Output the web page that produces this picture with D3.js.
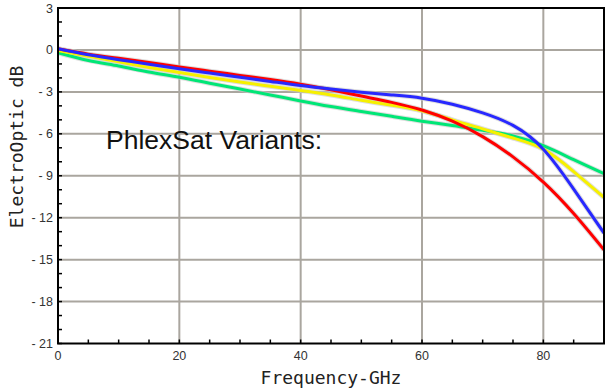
<!DOCTYPE html>
<html><head><meta charset="utf-8">
<script src="https://cdn.jsdelivr.net/npm/d3@7"></script>
<style>html,body{margin:0;padding:0;background:#fff;}svg{display:block;}</style>
</head><body>
<svg id="chart" width="605" height="390"></svg>
<script>
const freqs = [0,5,10,15,20,25,30,35,40,45,50,55,60,65,70,75,80,85,90];
const blueVals   = [0.08,-0.35,-0.7,-1.02,-1.35,-1.65,-1.95,-2.25,-2.55,-2.8,-3.02,-3.22,-3.45,-3.88,-4.5,-5.4,-7.1,-9.95,-13.1];
const redVals    = [0.08,-0.3,-0.6,-0.9,-1.22,-1.52,-1.82,-2.12,-2.45,-2.85,-3.3,-3.75,-4.3,-5.1,-6.2,-7.65,-9.45,-11.7,-14.3];
const yellowVals = [-0.05,-0.45,-0.85,-1.25,-1.62,-1.97,-2.3,-2.6,-2.9,-3.22,-3.6,-3.95,-4.35,-5.0,-5.65,-6.3,-7.1,-8.7,-10.55];
const greenVals  = [-0.2,-0.75,-1.15,-1.58,-1.95,-2.38,-2.8,-3.22,-3.65,-4.05,-4.4,-4.75,-5.1,-5.4,-5.75,-6.15,-6.85,-7.85,-8.85];
const seriesColors = ["#00e676","#f6f000","#ff0000","#2828ff"];
const seriesList = [greenVals, yellowVals, redVals, blueVals];
const yTicks = [3,0,-3,-6,-9,-12,-15,-18,-21];
const xTicks = [0,20,40,60,80];
const xTitle = "Frequency-GHz";
const yTitle = "ElectroOptic dB";
const note = "PhlexSat Variants:";

const svg = d3.select("#chart");
const L = 58, R = 604, T = 8, B = 343.5;
const x = d3.scaleLinear().domain([0,90]).range([L,R]);
const y = d3.scaleLinear().domain([-21,3]).range([B,T]);

// grid
const grid = svg.append("g");
grid.selectAll("line.h").data(yTicks.filter(d=>d>-21 && d<3)).enter().append("line")
  .attr("x1",L).attr("x2",R).attr("y1",d=>y(d)).attr("y2",d=>y(d))
  .attr("stroke","#aaa69f").attr("stroke-width",2);
grid.selectAll("line.v").data(xTicks.filter(d=>d>0)).enter().append("line")
  .attr("y1",T).attr("y2",B).attr("x1",d=>x(d)).attr("x2",d=>x(d))
  .attr("stroke","#aaa69f").attr("stroke-width",2);

// minor ticks (inward)
const yMinor = d3.range(-21,4,1);
svg.append("g").selectAll("line").data(yMinor).enter().append("line")
  .attr("x1",L).attr("x2",L+4).attr("y1",d=>y(d)).attr("y2",d=>y(d))
  .attr("stroke","#000").attr("stroke-width",1.5);
const xMinor = d3.range(0,91,5);
svg.append("g").selectAll("line").data(xMinor).enter().append("line")
  .attr("y1",B).attr("y2",B-4).attr("x1",d=>x(d)).attr("x2",d=>x(d))
  .attr("stroke","#000").attr("stroke-width",1.5);

// lines
const line = d3.line().x((d,i)=>x(freqs[i])).y(d=>y(d)).curve(d3.curveNatural);
seriesList.forEach((vals,i)=>{
  svg.append("path").attr("d",line(vals)).attr("fill","none")
    .attr("stroke","#c8c8c8").attr("stroke-width",5).attr("opacity",0.6);
});
seriesList.forEach((vals,i)=>{
  svg.append("path").attr("d",line(vals)).attr("fill","none")
    .attr("stroke",seriesColors[i]).attr("stroke-width",3)
    .attr("stroke-linejoin","round");
});

// frame
svg.append("rect").attr("x",L).attr("y",T).attr("width",R-L).attr("height",B-T)
  .attr("fill","none").attr("stroke","#000").attr("stroke-width",2);

// tick labels
svg.append("g").selectAll("text").data(yTicks).enter().append("text")
  .attr("x",53).attr("y",d=>y(d)+4.5).attr("text-anchor","end")
  .attr("font-family","Liberation Sans, Arial, sans-serif").attr("font-size",12.5)
  .attr("fill","#333").text(d=> d<0 ? "- " + Math.abs(d) : String(d));
svg.append("g").selectAll("text").data(xTicks).enter().append("text")
  .attr("x",d=>x(d)).attr("y",360).attr("text-anchor","middle")
  .attr("font-family","Liberation Sans, Arial, sans-serif").attr("font-size",12.5)
  .attr("fill","#333").text(d=>d);

// titles
svg.append("text").attr("x",331).attr("y",384).attr("text-anchor","middle")
  .attr("font-family","DejaVu Sans Mono, monospace").attr("font-size",18)
  .attr("fill","#222").text(xTitle);
svg.append("text").attr("transform","translate(23,147) rotate(-90)").attr("text-anchor","middle")
  .attr("font-family","DejaVu Sans Mono, monospace").attr("font-size",18)
  .attr("fill","#222").text(yTitle);

svg.append("text").attr("x",106).attr("y",149)
  .attr("font-family","Liberation Sans, Arial, sans-serif").attr("font-size",26.5)
  .attr("fill","#111").text(note);
</script>
</body></html>
